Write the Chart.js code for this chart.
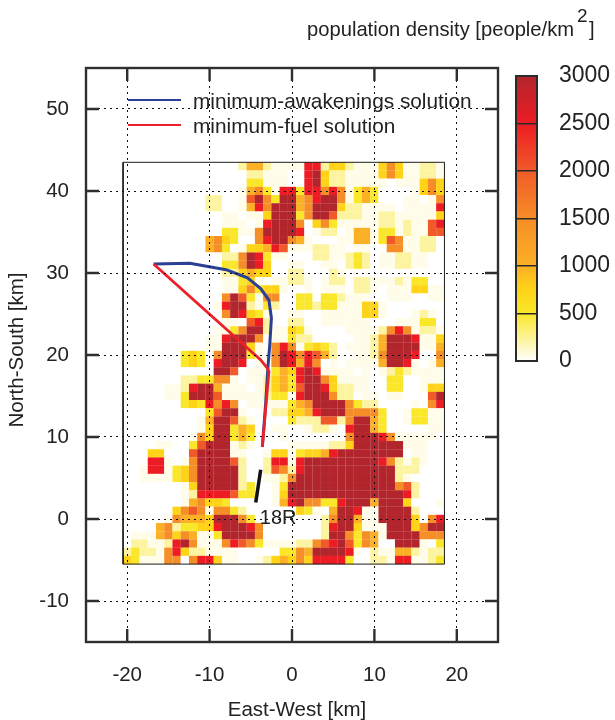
<!DOCTYPE html>
<html>
<head>
<meta charset="utf-8">
<title>population density</title>
<script src="https://cdn.jsdelivr.net/npm/chart.js@4"></script>
<style>
    body { margin: 0; background: #fff; }
    #wrap { position: relative; width: 615px; height: 720px; }
    canvas { position: absolute; }
    #mapChart { left: 0; top: 0; }
    #barChart { left: 500px; top: 56px; }
</style>
</head>
<body>
<div id="wrap">
    <canvas id="mapChart" width="615" height="720"></canvas>
    <canvas id="barChart" width="115" height="325"></canvas>
</div>
<script>
// one string per km row, north to south, one digit per km column, west to east
const densityRows = [
    "000000000000002552111188244211146411221",
    "000000000000000221110089422111146411221",
    "000000000000000331110089422111110111464",
    "000000000000001563188388686135300001464",
    "000000000022001796399568996135300011016",
    "000000000022001586999569994221111011118",
    "000000000000110114999369972221122111114",
    "000000000000111018999604631111122121178",
    "000000000000331169999801220155133121177",
    "000000000056430068996510001155137611220",
    "000000000056301445871112211011006611220",
    "000000000000226983110002211232011221100",
    "000000000000336984001100110232011221100",
    "000000000000224544002200021000000000000",
    "000000000000113410112210122022111213300",
    "000000000000114634410010111022101114411",
    "000000000000697316600330332111001110011",
    "000000000001899213200332331114410000000",
    "000000000000698431001100111114410001210",
    "000000000000110782002200111111000111330",
    "000000000001136992114310000111126861221",
    "000000000011899960113220000011259998114",
    "000000000011999410686134320111259999115",
    "000000034306999310698687520011269998006",
    "000000034308998011698586010111159981015",
    "000000000009970111354898111101012321111",
    "000000022336610112453899641111003300111",
    "000001128995111012453799842211003300144",
    "000001139997111112331899962201101100079",
    "000000034386860111113569999632200001068",
    "000000000037991000224458999666630013311",
    "000000000159972100003222772699530013311",
    "000000000149935400110012210899530000011",
    "000000001649935300010000000699986111110",
    "000011003799912100001111122499999911100",
    "000440007999911001441344589999999901100",
    "000881016999972002881899999999986212100",
    "001881346999992002762899999999999222000",
    "001111346999992001126999999999999210000",
    "000000014999992300139999999999999672000",
    "000000012888873300149999999999999982000",
    "000000015644300000158966338999599940001",
    "000000467616632000000431059981199992000",
    "000001655549996300000000269951199994068",
    "000056233448999860000000289941119994699",
    "011156465113999960000000299636519999666",
    "022112896111687631111226789736500999103",
    "232216842211110000033659999810211552122",
    "431116606884110012454648888300221881123"
];
const densityLevels = [0, 50, 220, 500, 750, 1000, 1500, 2000, 2500, 3000];
const firstColumnKm = -20;
const firstRowKm = 43;

const colorStops = [0, 500, 750, 1000, 1500, 2000, 2500, 3000];
const colorValues = ["#ffffff", "#fae72a", "#fed318", "#fbb025", "#f68e27", "#f15a28", "#ed1c24", "#b2252c"];

const xTicks = [-20, -10, 0, 10, 20];
const yTicks = [-10, 0, 10, 20, 30, 40, 50];
const barTicks = [0, 500, 1000, 1500, 2000, 2500, 3000];

const awakeningsX = [-16.8, -12.4, -8.0, -5.4, -3.8, -2.8, -2.5, -2.7, -2.9, -3.2, -3.6];
const awakeningsY = [31.1, 31.2, 30.4, 29.4, 28.1, 26.7, 24.5, 21.2, 18.8, 14, 8.8];
const fuelX = [-16.8, -3.8, -3.0, -2.8, -3.6];
const fuelY = [31.1, 19.4, 18.4, 18.0, 8.8];
const outlineX = [-20.5, 18.5, 18.5, -20.5, -20.5];
const outlineY = [-5.5, -5.5, 43.5, 43.5, -5.5];
const runwayX = [-3.8, -4.4];
const runwayY = [6.0, 2.0];

const textColor = "#222222";
const fontName = "'Liberation Sans', Arial, sans-serif";

let toRgb = function (hex) {
    return [1, 3, 5].map(i => parseInt(hex.substr(i, 2), 16));
};

let colorFor = function (value) {
    let i = 0;
    while (i < colorStops.length - 2 && value > colorStops[i + 1]) i++;
    let t = (value - colorStops[i]) / (colorStops[i + 1] - colorStops[i]);
    let a = toRgb(colorValues[i]);
    let b = toRgb(colorValues[i + 1]);
    return "rgb(" + a.map((c, k) => Math.round(c + (b[k] - c) * t)).join(",") + ")";
};

let zip = function (xs, ys) {
    return xs.map((x, i) => ({ x: x, y: ys[i] }));
};

let cells = [];
let cellColors = [];
densityRows.forEach(function (row, r) {
    row.split("").forEach(function (code, c) {
        let value = densityLevels[Number(code)];
        cells.push({ x: firstColumnKm + c, y: firstRowKm - r });
        cellColors.push(colorFor(value));
    });
});

let lineSet = function (label, xs, ys, color, width) {
    return {
        label: label,
        data: zip(xs, ys),
        showLine: true,
        borderColor: color,
        borderWidth: width,
        pointRadius: 0,
        fill: false,
        tension: 0
    };
};

// frame, inward ticks and the texts gnuplot put inside the plot
const mapDecor = {
    id: "mapDecor",
    afterDraw: function (chart) {
        const ctx = chart.ctx;
        const a = chart.chartArea;
        const sx = chart.scales.x;
        const sy = chart.scales.y;
        ctx.save();
        ctx.strokeStyle = "#2f2f2f";
        ctx.lineWidth = 2.4;
        ctx.strokeRect(a.left, a.top, a.width, a.height);
        ctx.beginPath();
        xTicks.forEach(function (v) {
            let p = sx.getPixelForValue(v);
            ctx.moveTo(p, a.top); ctx.lineTo(p, a.top + 13);
            ctx.moveTo(p, a.bottom); ctx.lineTo(p, a.bottom - 13);
        });
        yTicks.forEach(function (v) {
            let p = sy.getPixelForValue(v);
            ctx.moveTo(a.left, p); ctx.lineTo(a.left + 13, p);
            ctx.moveTo(a.right, p); ctx.lineTo(a.right - 13, p);
        });
        ctx.stroke();

        // legend
        ctx.fillStyle = textColor;
        ctx.textBaseline = "middle";
        ctx.font = "20.8px " + fontName;
        [1, 0].forEach(function (d, i) {
            let y = 100 + i * 25;
            ctx.strokeStyle = chart.data.datasets[d].borderColor;
            ctx.lineWidth = 2;
            ctx.beginPath();
            ctx.moveTo(128, y);
            ctx.lineTo(181, y);
            ctx.stroke();
            ctx.fillText(chart.data.datasets[d].label, 193, y + 2);
        });

        ctx.font = "20px " + fontName;
        ctx.fillText("18R", sx.getPixelForValue(-3.9), sy.getPixelForValue(0.1));

        // title with the raised 2
        ctx.font = "20.2px " + fontName;
        ctx.fillText("population density [people/km", 307, 30);
        ctx.fillText("]", 589, 30);
        ctx.font = "19px " + fontName;
        ctx.fillText("2", 577, 17);

        // axis titles sit a little off the plot centre in the original
        ctx.font = "20.5px " + fontName;
        ctx.textAlign = "center";
        ctx.fillText("East-West [km]", 297, 710);
        ctx.translate(17, 350);
        ctx.rotate(-Math.PI / 2);
        ctx.fillText("North-South [km]", 0, 0);
        ctx.restore();
    }
};

new Chart(document.getElementById("mapChart"), {
    type: "scatter",
    plugins: [mapDecor],
    data: {
        datasets: [
            lineSet("minimum-fuel solution", fuelX, fuelY, "#ed2029", 2.8),
            lineSet("minimum-awakenings solution", awakeningsX, awakeningsY, "#2b3f94", 3),
            lineSet("runway 18R", runwayX, runwayY, "#111111", 3.5),
            lineSet("grid outline", outlineX, outlineY, "#1c1c1c", 1),
            {
                label: "population density",
                data: cells,
                parsing: false,
                pointStyle: "rect",
                pointRadius: 5.9,
                pointHoverRadius: 5.9,
                pointBorderWidth: 0,
                pointBackgroundColor: cellColors,
                showLine: false
            }
        ]
    },
    options: {
        responsive: false,
        animation: false,
        events: [],
        layout: { padding: { left: 0, top: 68, right: 117, bottom: 0 } },
        plugins: { legend: { display: false }, tooltip: { enabled: false } },
        scales: {
            x: {
                type: "linear",
                min: -25,
                max: 25,
                afterBuildTicks: function (axis) { axis.ticks = xTicks.map(v => ({ value: v })); },
                afterFit: function (axis) { axis.height = 78; },
                grid: { color: "#111111", lineWidth: 1, z: 1, drawTicks: false },
                border: { display: false, dash: [2, 4] },
                ticks: { color: textColor, font: { size: 20.5, family: fontName }, padding: 21, maxRotation: 0 }
            },
            y: {
                type: "linear",
                min: -15,
                max: 55,
                afterBuildTicks: function (axis) { axis.ticks = yTicks.map(v => ({ value: v })); },
                afterFit: function (axis) { axis.width = 86; },
                grid: { color: "#111111", lineWidth: 1, z: 1, drawTicks: false },
                border: { display: false, dash: [2, 4] },
                ticks: { color: textColor, font: { size: 20.5, family: fontName }, padding: 17 }
            }
        }
    }
});

let barGradient = function (context) {
    const chart = context.chart;
    const a = chart.chartArea;
    if (!a) return colorValues[0];
    const g = chart.ctx.createLinearGradient(0, a.bottom, 0, a.top);
    colorStops.forEach(function (v, i) {
        g.addColorStop(v / 3000, colorValues[i]);
    });
    return g;
};

new Chart(document.getElementById("barChart"), {
    type: "bar",
    data: {
        labels: ["density"],
        datasets: [{
            data: [[barTicks[0], barTicks[barTicks.length - 1]]],
            backgroundColor: barGradient,
            barPercentage: 1,
            categoryPercentage: 1,
            borderWidth: 0
        }]
    },
    options: {
        responsive: false,
        animation: false,
        events: [],
        layout: { padding: { left: 16, top: 20, right: 0, bottom: 20 } },
        plugins: { legend: { display: false }, tooltip: { enabled: false } },
        scales: {
            x: { display: false },
            y: {
                position: "right",
                min: 0,
                max: 3000,
                afterBuildTicks: function (axis) { axis.ticks = barTicks.map(v => ({ value: v })); },
                afterFit: function (axis) {
                    axis.width = 78;
                    axis.paddingTop = 0;
                    axis.paddingBottom = 0;
                },
                grid: { color: "#2a2a2a", lineWidth: 1.5, z: 1, drawTicks: false },
                border: { display: false },
                ticks: {
                    color: textColor,
                    font: { size: 23, family: fontName },
                    padding: 22,
                    crossAlign: "near",
                    callback: function (value) { return String(value); }
                }
            }
        }
    },
    plugins: [{
        id: "barFrame",
        afterDraw: function (chart) {
            const a = chart.chartArea;
            chart.ctx.save();
            chart.ctx.strokeStyle = "#2a2a2a";
            chart.ctx.lineWidth = 2;
            chart.ctx.strokeRect(a.left, a.top, a.width, a.height);
            chart.ctx.restore();
        }
    }]
});
</script>
</body>
</html>
